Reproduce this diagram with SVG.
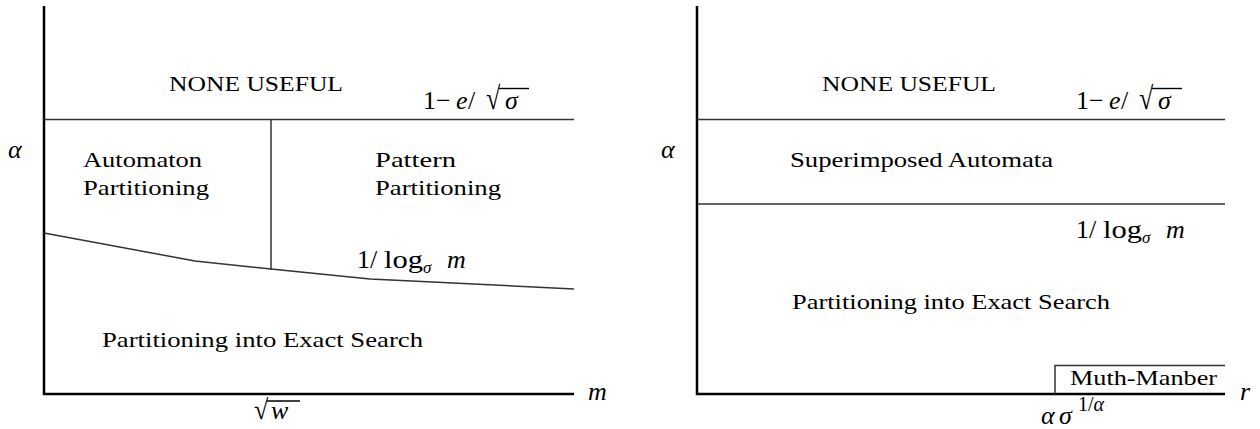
<svg xmlns="http://www.w3.org/2000/svg" width="1260" height="429" viewBox="0 0 1260 429">
<style>
  text { font-family: "Liberation Serif", "Times New Roman", serif; fill: #000; }
  .lbl { font-size: 22px; }
  .mth { font-size: 26px; }
  .it { font-style: italic; }
  .axis { stroke: #000; stroke-width: 2.5; fill: none; }
  .bound { stroke: #333; stroke-width: 1.5; fill: none; }
  .vinc { stroke: #000; stroke-width: 1.4; }
</style>
<rect width="1260" height="429" fill="#fff"/>

<!-- LEFT CHART -->
<g id="left-chart">
  <g id="left-connectors">
    <polyline class="axis" points="44,6 44,394 574,394"/>
    <line class="bound" x1="44" y1="119.5" x2="574" y2="119.5"/>
    <line class="bound" x1="271" y1="119.5" x2="271" y2="270"/>
    <polyline class="bound" points="44,233 195,261 271,269 370,279 574,289"/>
  </g>
  <g id="left-none-useful">
    <text class="lbl" x="169" y="91" textLength="174" lengthAdjust="spacingAndGlyphs">NONE USEFUL</text>
  </g>
  <g id="left-bound-top">
    <text class="mth" x="423" y="109">1−<tspan class="it" x="456">e</tspan><tspan x="468">/</tspan></text>
    <text class="mth" transform="translate(486,109) scale(1,1.22)">√</text>
    <line class="vinc" x1="499" y1="88.5" x2="529" y2="88.5"/>
    <text class="mth it" x="505" y="109">σ</text>
  </g>
  <g id="left-alpha">
    <text class="mth it" x="8" y="158">α</text>
  </g>
  <g id="automaton-partitioning">
    <text class="lbl" x="83" y="167" textLength="119" lengthAdjust="spacingAndGlyphs">Automaton</text>
    <text class="lbl" x="83" y="195" textLength="126" lengthAdjust="spacingAndGlyphs">Partitioning</text>
  </g>
  <g id="pattern-partitioning">
    <text class="lbl" x="375" y="167" textLength="81" lengthAdjust="spacingAndGlyphs">Pattern</text>
    <text class="lbl" x="375" y="195" textLength="126" lengthAdjust="spacingAndGlyphs">Partitioning</text>
  </g>
  <g id="left-bound-log">
    <text class="mth" x="357" y="268">1/<tspan x="384" textLength="39" lengthAdjust="spacingAndGlyphs">log</tspan><tspan class="it" x="423" dy="5" font-size="17">σ</tspan><tspan class="it" x="447" dy="-5">m</tspan></text>
  </g>
  <g id="left-exact-search">
    <text class="lbl" x="102" y="347" textLength="321" lengthAdjust="spacingAndGlyphs">Partitioning into Exact Search</text>
  </g>
  <g id="left-m-label">
    <text class="mth it" x="588" y="400">m</text>
  </g>
  <g id="left-sqrt-w">
    <text class="mth" transform="translate(254,419) scale(1,1.08)">√</text>
    <line class="vinc" x1="267" y1="401" x2="300" y2="401"/>
    <text class="mth it" x="271" y="419">w</text>
  </g>
</g>

<!-- RIGHT CHART -->
<g id="right-chart">
  <g id="right-connectors">
    <polyline class="axis" points="697,6 697,394 1225,394"/>
    <line class="bound" x1="697" y1="119.5" x2="1225" y2="119.5"/>
    <line class="bound" x1="697" y1="204" x2="1225" y2="204"/>
    <polyline class="bound" points="1055,394 1055,365.5 1225,365.5"/>
  </g>
  <g id="right-none-useful">
    <text class="lbl" x="822" y="91" textLength="174" lengthAdjust="spacingAndGlyphs">NONE USEFUL</text>
  </g>
  <g id="right-bound-top">
    <text class="mth" x="1076" y="109">1−<tspan class="it" x="1109">e</tspan><tspan x="1121">/</tspan></text>
    <text class="mth" transform="translate(1139,109) scale(1,1.22)">√</text>
    <line class="vinc" x1="1152" y1="88.5" x2="1182" y2="88.5"/>
    <text class="mth it" x="1158" y="109">σ</text>
  </g>
  <g id="right-alpha">
    <text class="mth it" x="661" y="158">α</text>
  </g>
  <g id="superimposed-automata">
    <text class="lbl" x="790" y="167" textLength="263" lengthAdjust="spacingAndGlyphs">Superimposed Automata</text>
  </g>
  <g id="right-bound-log">
    <text class="mth" x="1076" y="238">1/<tspan x="1103" textLength="39" lengthAdjust="spacingAndGlyphs">log</tspan><tspan class="it" x="1142" dy="5" font-size="17">σ</tspan><tspan class="it" x="1166" dy="-5">m</tspan></text>
  </g>
  <g id="right-exact-search">
    <text class="lbl" x="792" y="309" textLength="318" lengthAdjust="spacingAndGlyphs">Partitioning into Exact Search</text>
  </g>
  <g id="muth-manber">
    <text class="lbl" x="1070" y="385" textLength="147" lengthAdjust="spacingAndGlyphs">Muth-Manber</text>
  </g>
  <g id="right-r-label">
    <text class="mth it" x="1240" y="400">r</text>
  </g>
  <g id="right-x-tick">
    <text class="mth it" font-size="28" x="1041" y="424">α<tspan x="1059">σ</tspan><tspan font-style="normal" font-size="20" x="1078" dy="-13">1/</tspan><tspan font-size="20">α</tspan></text>
  </g>
</g>
</svg>
